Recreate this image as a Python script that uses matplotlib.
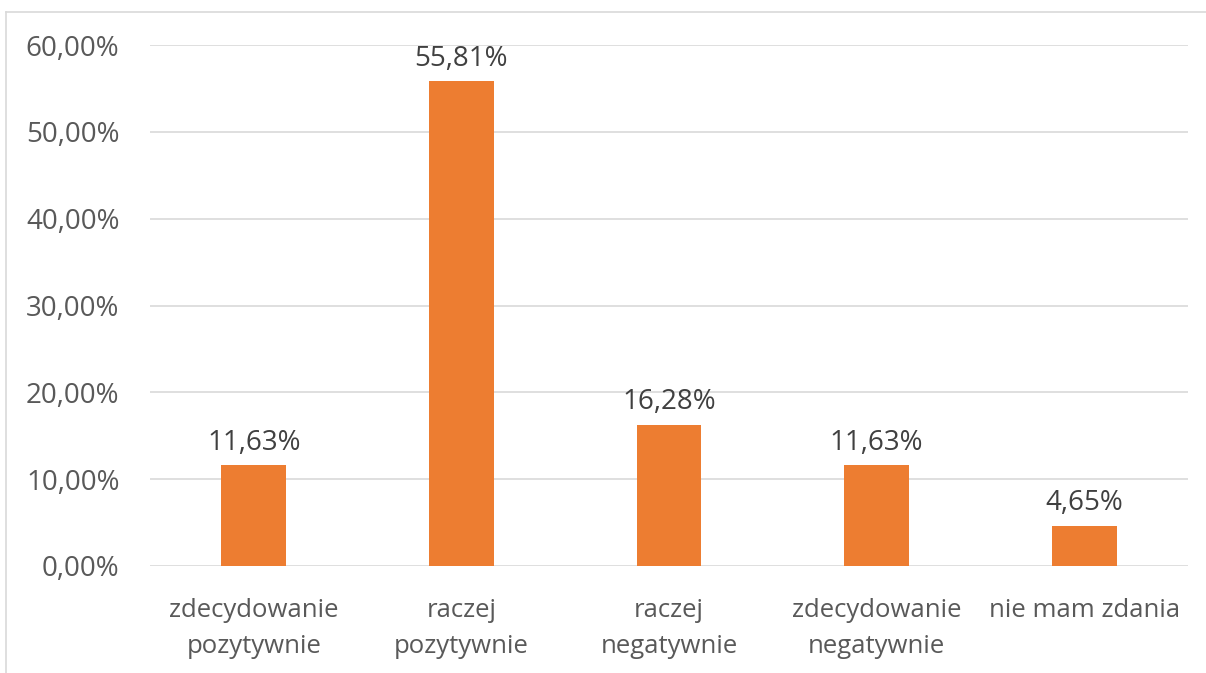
import numpy as np
import matplotlib.pyplot as plt
from matplotlib.lines import Line2D

categories = ["zdecydowanie\npozytywnie", "raczej\npozytywnie", "raczej\nnegatywnie",
              "zdecydowanie\nnegatywnie", "nie mam zdania"]
values = [11.63, 55.81, 16.28, 11.63, 4.65]
yticks = [0, 10, 20, 30, 40, 50, 60]


def pl_pct(v):
    return "{:.2f}%".format(v).replace(".", ",")


plt.rcParams['font.family'] = ['Open Sans', 'DejaVu Sans']

fig = plt.figure(figsize=(12.06, 6.73), dpi=100)
# chart-area border (cropped at the right and bottom in the original)
fx, fy = 6 / 1206, 1 - 12 / 673
fig.lines.append(Line2D([fx, 1.0], [fy, fy], transform=fig.transFigure, color='#d9d9d9', linewidth=1.2))
fig.lines.append(Line2D([fx, fx], [0.0, fy], transform=fig.transFigure, color='#d9d9d9', linewidth=1.2))

ax = fig.add_axes([150 / 1206, 1 - 566 / 673, 1038 / 1206, (566 - 45) / 673])
x = np.arange(len(categories))
ax.bar(x, values, width=0.313, color='#ed7d31', zorder=3)

for xi, v in zip(x, values):
    ax.annotate(pl_pct(v), (xi, v), xytext=(0, 6),
                textcoords='offset points', ha='center', va='bottom',
                fontsize=20, color='#404040')

ax.set_xlim(-0.5, len(categories) - 0.5)
ax.set_ylim(0, 60)
ax.set_yticks(yticks)
ax.set_yticklabels([pl_pct(t) for t in yticks])
ax.set_xticks(x)
ax.set_xticklabels(categories, linespacing=1.58)
ax.tick_params(axis='y', length=0, pad=22, labelsize=20, labelcolor='#595959')
ax.tick_params(axis='x', length=0, pad=23, labelsize=18.5, labelcolor='#595959')
ax.grid(axis='y', color='#d9d9d9', linewidth=1.2, zorder=0)
for s in ax.spines.values():
    s.set_visible(False)

fig.savefig("out.png", dpi=100)
